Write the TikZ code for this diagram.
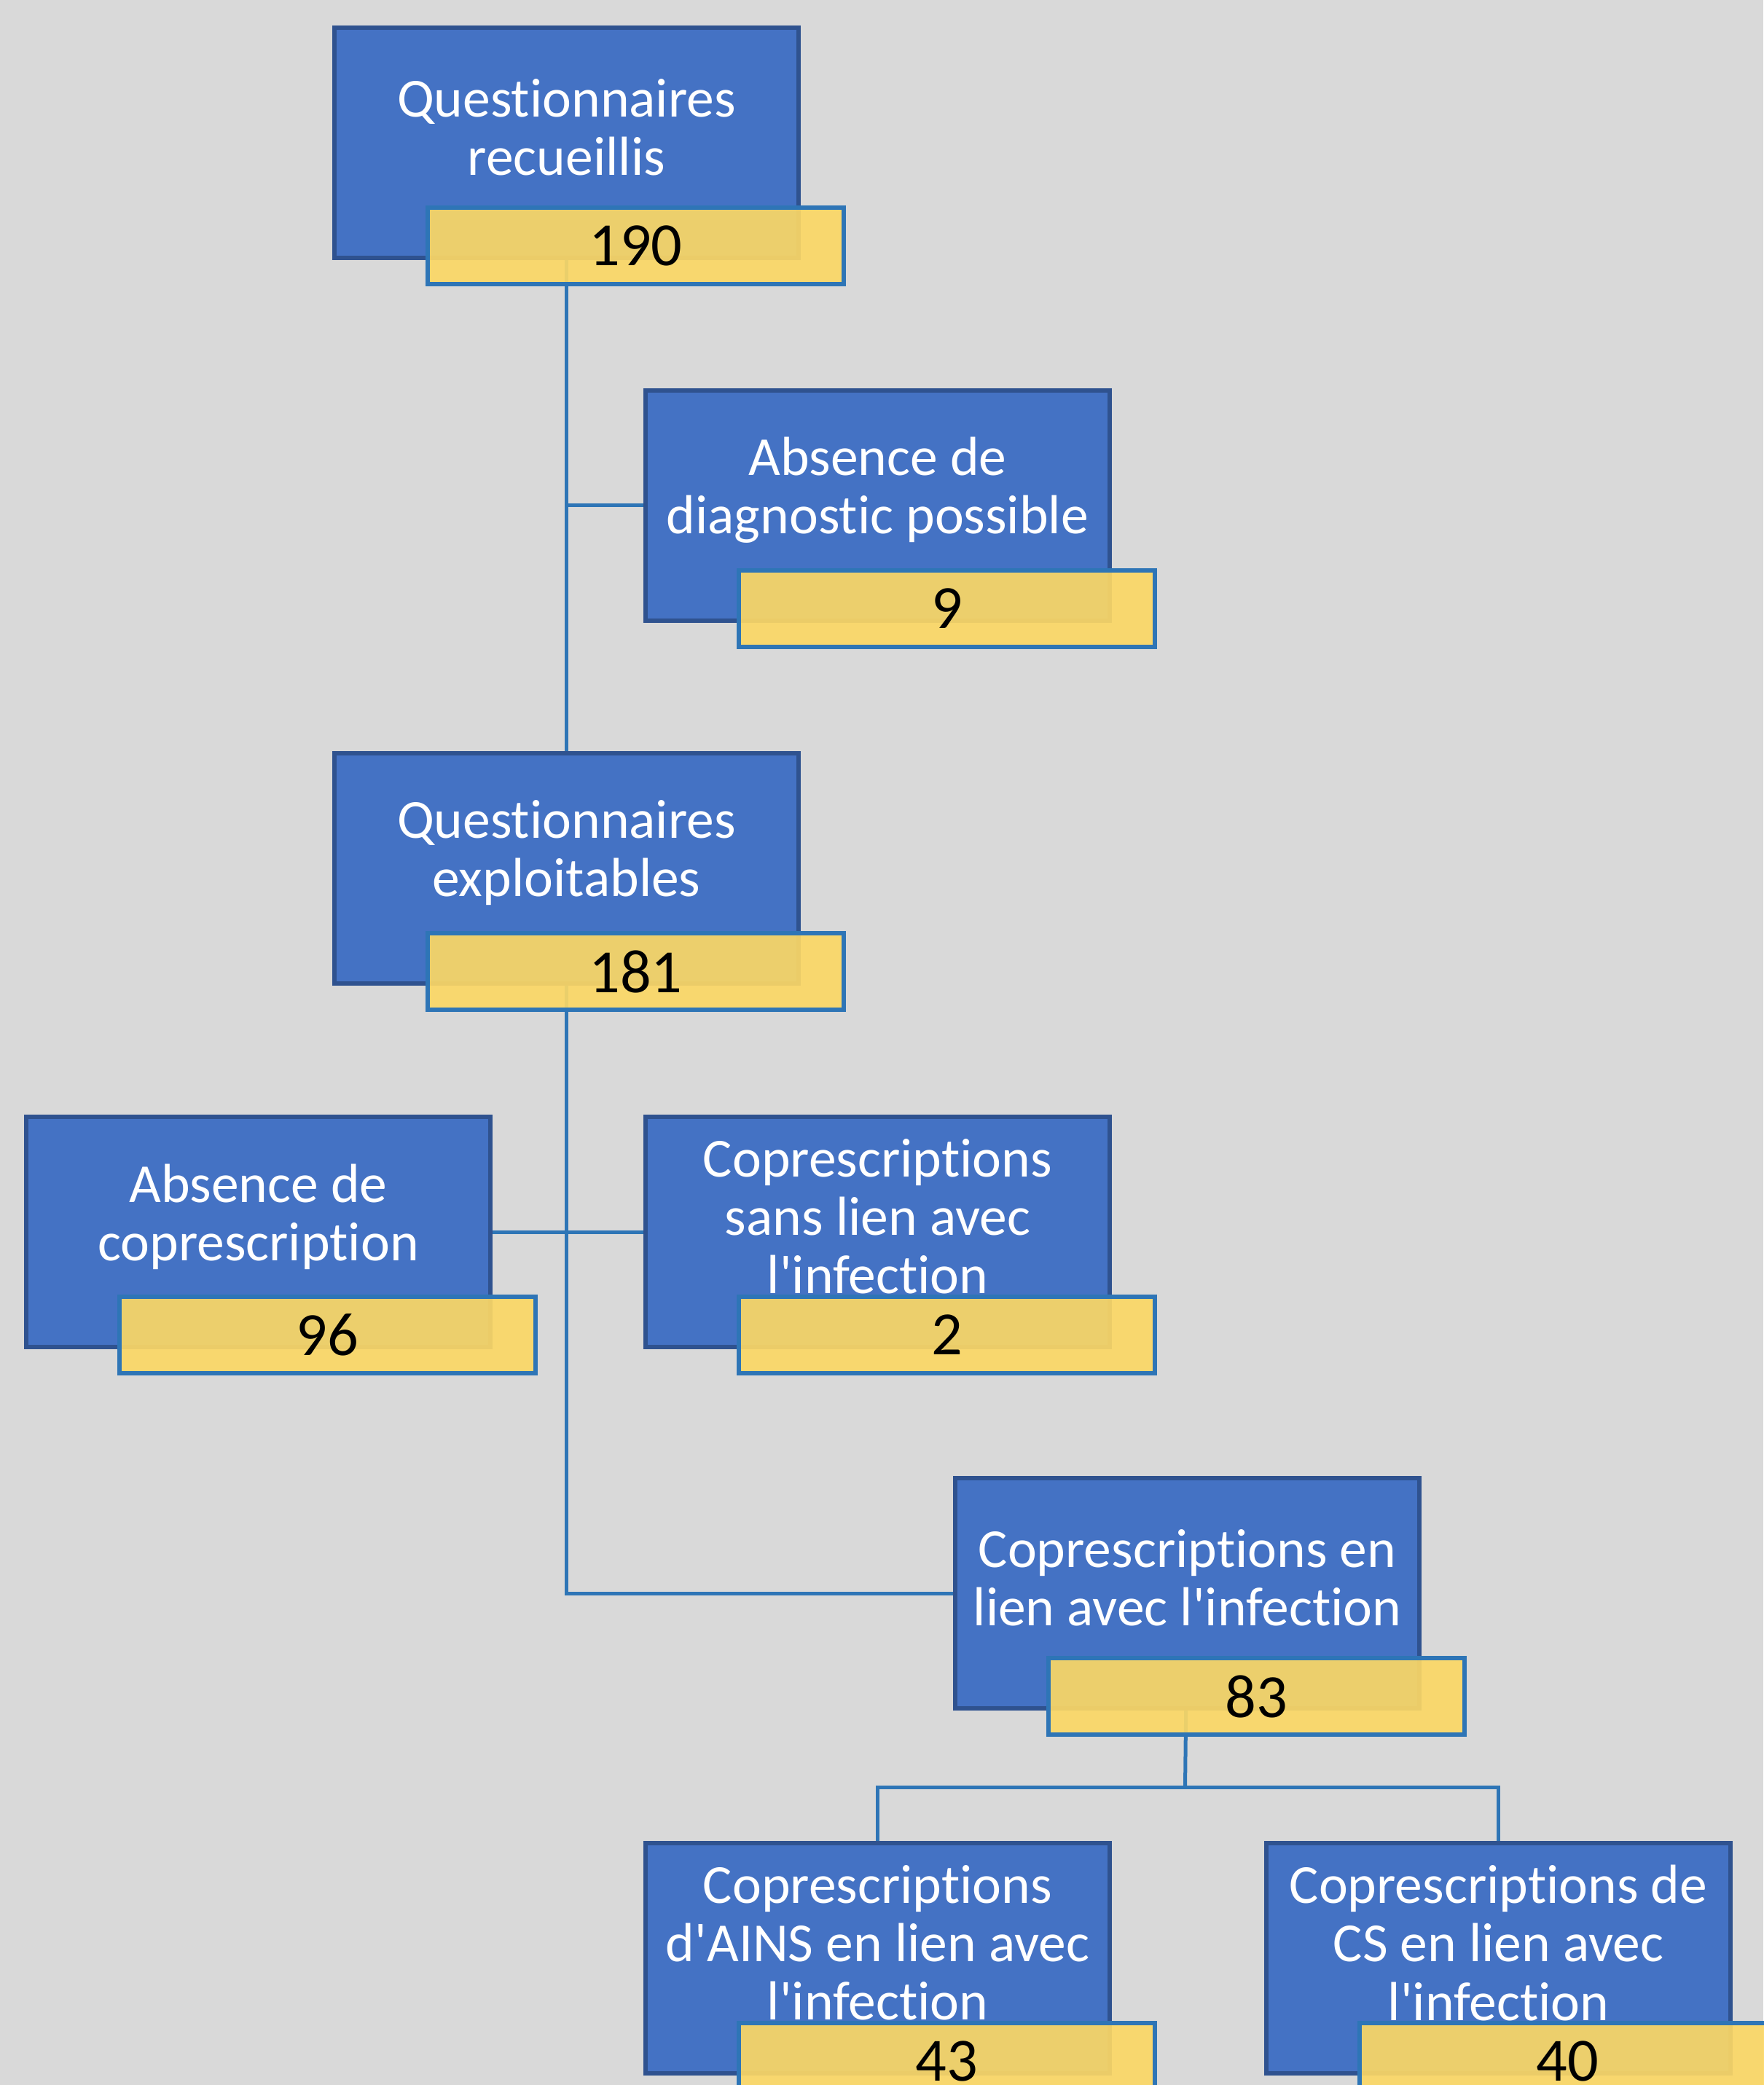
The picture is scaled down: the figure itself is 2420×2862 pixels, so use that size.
\documentclass[tikz,border=0pt]{standalone}
\usepackage{fontspec}
\usetikzlibrary{calc,backgrounds}
\newfontfamily\carl{Carlito}[Ligatures=NoCommon]
\definecolor{bg}{HTML}{D9D9D9}
\definecolor{boxblue}{HTML}{4472C4}
\definecolor{boxedge}{HTML}{2F528F}
\definecolor{numfill}{HTML}{FBD765}
\definecolor{lineblue}{HTML}{2E75B6}
\begin{document}
\begin{tikzpicture}[x=0.1mm,y=-0.1mm,
  bluebox/.style={draw=boxedge,fill=boxblue,line width=0.6mm,minimum width=63.7mm,minimum height=31.6mm,inner sep=0pt,anchor=north west},
  numbox/.style={draw=lineblue,fill=numfill,fill opacity=0.92,text opacity=1,line width=0.6mm,minimum width=57.1mm,minimum height=10.5mm,inner sep=0pt,anchor=north west,font=\carl\fontsize{24}{26}\selectfont,text=black},
  boxtext/.style={text=white,align=center,inner sep=0pt,font=\carl\fontsize{21.5}{22.8}\selectfont},
  conn/.style={draw=lineblue,line width=0.5mm}]
\useasboundingbox (0,0) rectangle (2420,2862);
% blue boxes
\node[bluebox] (a) at (456,35) {};
\node[bluebox] (b) at (883,533) {};
\node[bluebox] (c) at (456,1031) {};
\node[bluebox] (d) at (33,1530) {};
\node[bluebox] (e) at (883,1530) {};
\node[bluebox] (f) at (1308,2026) {};
\node[bluebox] (g) at (883,2527) {};
\node[bluebox] (h) at (1735,2527) {};
\coordinate (fj) at (1626.5,2453);
\begin{pgfonlayer}{background}
\fill[bg] (0,0) rectangle (2420,2862);
\draw[conn] (a.center) -- (c.center);
\draw[conn] (b.center) -- (b.center -| a.center);
\draw[conn] (c.center) |- (f.center);
\draw[conn] (d.center) -- (e.center);
\draw[conn] (f.center) -- (fj);
\draw[conn] (g.center) -- (g.center |- fj) -- (h.center |- fj) -- (h.center);
\end{pgfonlayer}
% texts
\node[boxtext] (ta) at ($(a.north)+(0,140)$) {Questionnaires\\recueillis};
\node[boxtext] (tb) at ($(b.north)+(0,140)$) {Absence de\\diagnostic possible};
\node[boxtext] (tc) at ($(c.north)+(0,140)$) {Questionnaires\\exploitables};
\node[boxtext] (td) at ($(d.north)+(0,140)$) {Absence de\\coprescription};
\node[boxtext] (te) at ($(e.north)+(0,140)$) {Coprescriptions\\sans lien avec\\l'infection};
\node[boxtext] (tf) at ($(f.north)+(0,140)$) {Coprescriptions en\\lien avec l'infection};
\node[boxtext] (tg) at ($(g.north)+(0,140)$) {Coprescriptions\\d'AINS en lien avec\\l'infection};
\node[boxtext] (th) at ($(h.north)+(0,140)$) {Coprescriptions de\\CS en lien avec\\l'infection};
% number boxes
\node[numbox] (ya) at ($(a.north west)+(128,247)$) {190};
\node[numbox] (yb) at ($(b.north west)+(128,247)$) {9};
\node[numbox] (yc) at ($(c.north west)+(128,247)$) {181};
\node[numbox] (yd) at ($(d.north west)+(128,247)$) {96};
\node[numbox] (ye) at ($(e.north west)+(128,247)$) {2};
\node[numbox] (yf) at ($(f.north west)+(128,247)$) {83};
\node[numbox] (yg) at ($(g.north west)+(128,247)$) {43};
\node[numbox] (yh) at ($(h.north west)+(128,247)$) {40};
\end{tikzpicture}
\end{document}
